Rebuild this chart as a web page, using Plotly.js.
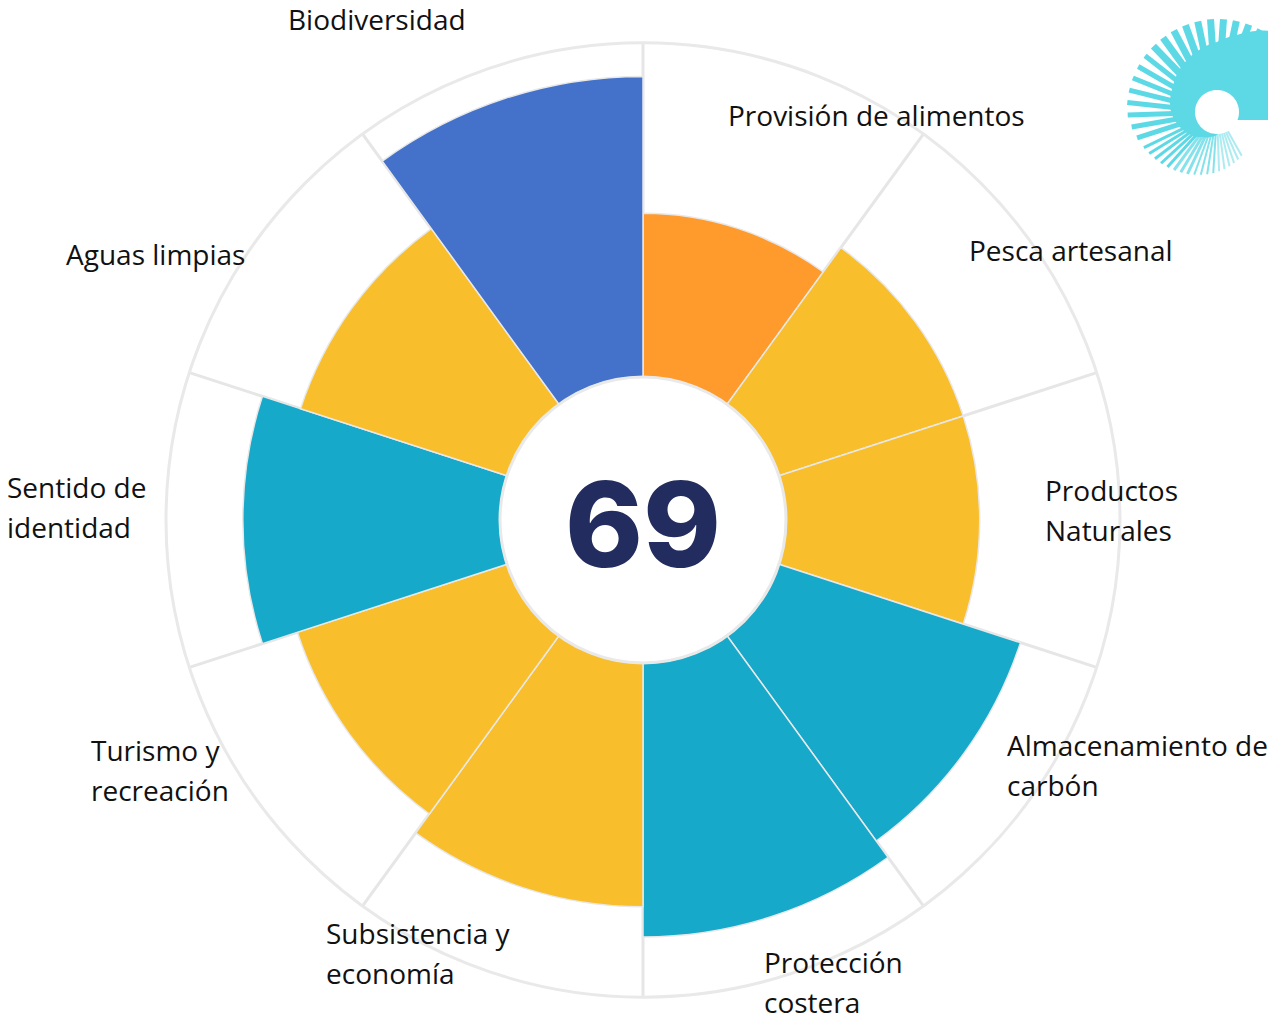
<!DOCTYPE html>
<html>
<head>
<meta charset="utf-8">
<script src="https://cdn.plot.ly/plotly-3.0.1.min.js"></script>
<style>html,body{margin:0;padding:0;background:#fff;}#chart{width:1268px;height:1020px;}</style>
</head>
<body>
<div id="chart"></div>
<script>
// ---- data ----
const labelLines = [
  ["Provisión de alimentos"],
  ["Pesca artesanal"],
  ["Productos", "Naturales"],
  ["Almacenamiento de", "carbón"],
  ["Protección", "costera"],
  ["Subsistencia y", "economía"],
  ["Turismo y", "recreación"],
  ["Sentido de", "identidad"],
  ["Aguas limpias"],
  ["Biodiversidad"]
];
const categories = labelLines.map(l => l.join(" "));
const scores = [49, 58, 58, 76, 82, 73, 66, 77, 65, 90];
const overallScore = 69;

// ---- styles ----
const barColors = ["#FF9A2C", "#F9BE2B", "#F9BE2B", "#17A9C9", "#17A9C9",
                   "#F9BE2B", "#F9BE2B", "#17A9C9", "#F9BE2B", "#4472CA"];
const W = 1268, H = 1020;
const CX = 643, CY = 520, R = 477;
// label anchors in pixels: left x, first line centre y
const labelPos = [
  [726, 115], [967, 250], [1043, 490], [1005, 745], [762, 962],
  [324, 933], [89, 750], [5, 487], [64, 254], [286, 19]
];
const lineGap = 40;

const n = categories.length;
const step = 360 / n;
const theta = categories.map((_, i) => i * step + step / 2);
const bounds = categories.map((_, i) => i * step);

const bars = {
  type: "barpolar",
  r: scores,
  theta: theta,
  width: categories.map(() => step),
  text: categories,
  hoverinfo: "text+r",
  marker: { color: barColors, line: { color: "#e8e8e8", width: 1.5 } },
  opacity: 1
};

// ---- annotations ----
const px = x => x / W, py = y => 1 - y / H;
const annotations = [];
labelLines.forEach((lines, i) => {
  lines.forEach((t, j) => {
    annotations.push({
      xref: "paper", yref: "paper",
      x: px(labelPos[i][0]), y: py(labelPos[i][1] + j * lineGap),
      xanchor: "left", yanchor: "middle", showarrow: false,
      text: t,
      font: { family: "Open Sans, sans-serif", size: 28, color: "#111111" }
    });
  });
});
annotations.push({
  xref: "paper", yref: "paper", x: px(CX), y: py(CY + 4),
  xanchor: "center", yanchor: "middle", showarrow: false,
  text: String(overallScore),
  font: { family: "Inter, Lato, sans-serif", size: 118, color: "#222C5E", weight: 800 }
});

// ---- logo (decoration) ----
const shapes = [];
const LX = 1217, LY = 112, LR = 22;
function interp(pts, a) {
  if (a <= pts[0][0]) return pts[0][1];
  for (let k = 1; k < pts.length; k++) {
    if (a <= pts[k][0]) {
      const f = (a - pts[k - 1][0]) / (pts[k][0] - pts[k - 1][0]);
      return pts[k - 1][1] + f * (pts[k][1] - pts[k - 1][1]);
    }
  }
  return pts[pts.length - 1][1];
}
const solidR = [[40, 110], [58, 96], [75, 80], [90, 70], [120, 60], [150, 51], [180, 46], [210, 38], [240, 29], [270, 23], [300, 22]];
const rayR = [[60, 93], [90, 93], [180, 90], [240, 70], [300, 50]];
const P = (r, a) => [LX + r * Math.cos(a * Math.PI / 180), LY - r * Math.sin(a * Math.PI / 180)];
const toPath = pts => pts.map((p, k) => (k ? "L" : "M") + px(p[0]).toFixed(5) + "," + py(p[1]).toFixed(5)).join(" ") + " Z";
{
  const pts = [[1272, 120], [LX + Math.sqrt(LR * LR - 64), 120]];
  const a0 = -Math.asin(8 / LR) * 180 / Math.PI;
  for (let a = a0; a <= 270; a += 3) pts.push(P(LR, a));
  for (let a = 270; a >= 30; a -= 3) pts.push(P(interp(solidR, a), a));
  pts.push([1272, 0]);
  shapes.push({ type: "path", xref: "paper", yref: "paper", path: toPath(pts), fillcolor: "#5DD9E5", line: { width: 0 } });
  for (let a = 62; a <= 302; a += (a < 200 ? 8 : 5.5)) {
    const r1 = Math.max(interp(solidR, a) - 3, LR), r2 = interp(rayR, a);
    const w = a < 140 ? 7 : a < 200 ? 5 : a < 250 ? 3 : 2;
    const op = a < 230 ? 1 : a < 270 ? 0.75 : 0.5;
    const p1 = P(r1, a), p2 = P(r2, a);
    shapes.push({ type: "line", xref: "paper", yref: "paper",
      x0: px(p1[0]), y0: py(p1[1]), x1: px(p2[0]), y1: py(p2[1]),
      line: { color: "#5DD9E5", width: w }, opacity: op });
  }
}

const layout = {
  width: W, height: H,
  margin: { l: 0, r: 0, t: 0, b: 0 },
  paper_bgcolor: "#ffffff",
  showlegend: false,
  polar: {
    domain: { x: [(CX - R) / W, (CX + R) / W], y: [(H - CY - R) / H, (H - CY + R) / H] },
    hole: 143 / 477,
    bgcolor: "#ffffff",
    radialaxis: { range: [0, 100], visible: false },
    angularaxis: {
      rotation: 90, direction: "clockwise", thetaunit: "degrees",
      tickvals: bounds, showticklabels: false, ticks: "",
      showgrid: true, gridcolor: "#e6e6e6", gridwidth: 3,
      showline: true, linecolor: "#e9e9e9", linewidth: 3
    }
  },
  annotations: annotations,
  shapes: shapes
};

Plotly.newPlot("chart", [bars], layout, { displayModeBar: false, staticPlot: true });
</script>
</body>
</html>
